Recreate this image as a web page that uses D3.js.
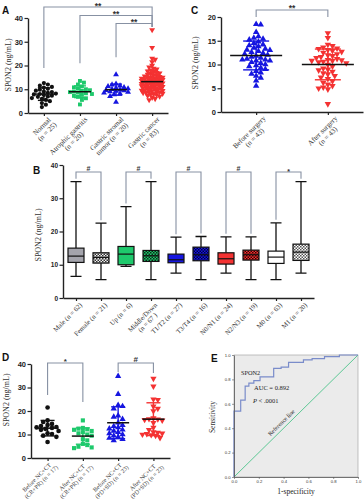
<!DOCTYPE html>
<html><head><meta charset="utf-8">
<script src="https://cdn.jsdelivr.net/npm/d3@7"></script>
<style>body{margin:0;background:#fff}svg{display:block}</style>
</head><body>
<svg id="c" width="364" height="500"></svg>
<script>
// ================= DATA =================
// Panel A
const aCategories=[["Normal","(n = 25)"],["Atrophic gastritis","(n = 20)"],["Gastric stromal","tumor (n = 20)"],["Gastric cancer","(n = 83)"]];
const aNormal=[2.5,3.5,4.2,5.0,5.5,6.0,6.3,6.8,7.0,7.3,7.6,7.8,8.0,8.2,8.5,8.8,9.0,9.4,9.8,10.2,10.7,11.0,11.5,12.0,12.6];
const aAtrophic=[3.6,5.5,6.2,6.8,7.2,7.6,8.0,8.3,8.6,8.8,9.0,9.3,9.6,10.0,10.3,10.8,11.2,12.0,12.8,13.5];
const aStromal=[4.6,7.0,7.8,8.2,8.5,8.8,9.0,9.2,9.4,9.6,9.8,10.0,10.3,10.5,10.8,11.2,11.5,11.9,12.3,16.2];
const aCancer=[5.5,6.0,6.5,7.0,7.3,7.6,8.0,8.2,8.5,8.8,9.0,9.2,9.4,9.6,9.8,10.0,10.2,10.4,10.6,10.8,
 11.0,11.1,11.3,11.5,11.6,11.8,12.0,12.1,12.3,12.5,12.6,12.8,13.0,13.1,13.3,13.5,13.6,13.8,14.0,14.2,
 14.3,14.5,14.7,14.9,15.1,15.3,15.5,15.7,16.0,16.2,16.5,16.8,17.0,17.3,17.6,18.0,18.4,18.8,19.3,20.0,
 9.1,10.1,10.9,11.4,12.2,12.7,13.2,13.7,14.1,14.6,12.4,11.7,10.5,9.5,8.6,13.4,15.0,21.5,22.5,23.0,
 27.5,35.0,7.8];
const aTicks=[0,10,20,30,40];
const aSig=[[0,3,"**"],[1,3,"**"],[2,3,"**"]];
const aSigLegEnd=[19,21,23.5];

// Panel C
const cCategories=[["Before surgery","(n = 43)"],["After surgery","(n = 43)"]];
const cBefore=[18.5,18.4,16.8,15.9,15.6,15.4,15.2,14.8,14.5,14.2,14.0,13.8,13.5,13.3,13.1,13.0,12.8,12.6,12.4,12.2,12.0,11.8,11.6,11.4,11.2,11.0,11.0,10.8,10.8,10.5,10.3,10.0,9.8,9.6,9.3,9.0,8.6,8.3,8.0,7.6,7.2,6.6,5.5];
const cAfter=[16.6,15.6,14.2,13.9,13.6,13.4,13.3,13.1,12.9,12.7,12.5,12.2,12.0,11.8,11.6,11.4,11.2,11.0,10.9,10.8,10.8,10.6,10.5,10.3,10.0,9.6,9.2,9.0,8.8,8.5,8.2,8.0,7.6,7.3,7.0,6.5,6.2,5.8,5.5,5.2,5.0,4.8,1.7];
const cTicks=[0,5,10,15,20];

// Panel B
const bCategories=[["Male (n = 62)"],["Female (n = 21)"],["Up (n = 6)"],["Middle/Down","(n = 67 )"],["T1/T2 (n = 27)"],["T3/T4 (n = 16)"],["N0/N1 (n = 24)"],["N2/N3 (n = 19)"],["M0 (n = 63)"],["M1 (n = 20)"]];
const bMin=[6.5,5.5,9.5,5.5,7.5,5.5,7.5,5.5,5.5,7.5];
const bQ1=[10.7,10.5,10.0,11.0,10.6,11.2,10.2,11.4,10.4,11.3];
const bMedian=[12.6,12.2,13.2,12.7,11.5,13.0,11.8,13.0,12.3,13.8];
const bQ3=[15.0,13.6,15.5,14.3,13.2,15.3,13.6,14.4,14.1,16.2];
const bMax=[35,22.5,27.5,35,18.3,18.5,18.4,18.4,22.6,35];
const bTicks=[0,10,20,30,40];
const bPairs=[[0,1,"#"],[2,3,"#"],[4,5,"#"],[6,7,"#"],[8,9,"*"]];

// Panel D
const dCategories=[["Before NC+CT","(CR+PR) (n = 17)"],["After NC+CT","(CR+PR) (n = 17)"],["Before NC+CT","(PD+SD) (n = 23)"],["After NC+CT","(PD+SD) (n = 23)"]];
const dBeforeCR=[21.5,16.0,15.3,14.5,14.0,13.6,13.2,13.0,12.8,12.4,12.0,11.5,10.5,10.2,9.5,9.0,6.8];
const dAfterCR=[16.0,12.8,12.5,12.2,12.0,11.5,11.0,10.5,10.0,9.5,8.0,7.5,6.0,5.5,4.8,4.5,4.2];
const dBeforePD=[34.8,27.2,22.5,22.0,21.0,18.0,17.5,16.5,15.0,14.0,13.5,13.0,12.5,12.0,11.5,11.0,10.5,10.0,9.5,9.0,8.5,8.0,7.5];
const dAfterPD=[33.8,30.5,25.0,24.8,22.0,21.0,20.0,17.0,16.6,16.5,16.3,16.0,15.0,13.0,12.0,11.0,10.8,10.5,10.3,10.0,9.8,9.5,8.6];
const dTicks=[0,10,20,30,40];
const dSig=[[0,1,"*"],[2,3,"#"]];
const dSigLegEnd=[[26.8,23.8],[36.6,36.2]];

// Panel E
const rocFPR=[0,0,0.054,0.09,0.12,0.16,0.21,0.32,0.38,0.44,0.56,0.63,0.73,0.85,1];
const rocTPR=[0,0.54,0.63,0.745,0.77,0.79,0.82,0.89,0.90,0.94,0.96,0.97,0.986,1,1];
const rocTicks=[0,0.2,0.4,0.6,0.8,1.0];

// ================= STYLE =================
const SANS="Arial, 'Liberation Sans', sans-serif";
const SERIF="'Times New Roman', 'Liberation Serif', serif";
const BLACK="#111", GREEN="#1ec96c", BLUE="#1616e0", RED="#f43232", BRK="#8791a3";

const svg=d3.select("#c");
const defs=svg.append("defs");
function pattern(id,base,dot){
  const p=defs.append("pattern").attr("id",id).attr("patternUnits","userSpaceOnUse").attr("width",3).attr("height",3);
  p.append("rect").attr("width",3).attr("height",3).attr("fill",base);
  p.append("rect").attr("width",1.5).attr("height",1.5).attr("fill",dot);
  p.append("rect").attr("x",1.5).attr("y",1.5).attr("width",1.5).attr("height",1.5).attr("fill",dot);
}
pattern("pGray","#f2f2f2","#333");
pattern("pGreen",GREEN,"#0b2a18");
pattern("pBlue",BLUE,"#000040");
pattern("pRed",RED,"#3a0000");
pattern("pWhite","#ffffff","#555");
const bFill=["#a4a4ac","url(#pGray)",GREEN,"url(#pGreen)",BLUE,"url(#pBlue)",RED,"url(#pRed)","#ffffff","url(#pWhite)"];

// ================= HELPERS =================
function swarm(vals,y,d,maxOff){
  const items=vals.map(v=>({v,y:y(v)})).sort((a,b)=>a.y-b.y);
  const placed=[];
  items.forEach((p,i)=>{
    const step=d*0.5, n=Math.floor(maxOff/step);
    let best=0,bestScore=-1;
    for(let k=0;k<=2*n;k++){
      const mag=Math.ceil(k/2)*step;
      const sgn=(k%2===1)?(i%2?1:-1):(i%2?-1:1);
      const dx=k===0?0:sgn*mag;
      let minD=Infinity;
      for(const q of placed){const dd=Math.hypot(q.dx-dx,q.y-p.y);if(dd<minD)minD=dd;}
      if(minD>=d){best=dx;bestScore=Infinity;break;}
      if(minD>bestScore){bestScore=minD;best=dx;}
    }
    p.dx=best;placed.push(p);
  });
  return items;
}
function yAxis(g,y,ticks,x,fs){
  const ax=g.append("g").attr("transform",`translate(${x},0)`)
    .call(d3.axisLeft(y).tickValues(ticks).tickSize(3.5).tickSizeOuter(0).tickPadding(1.5).tickFormat(d3.format("d")));
  ax.select(".domain").attr("stroke","#222").attr("stroke-width",1.4);
  ax.selectAll(".tick line").attr("stroke","#222").attr("stroke-width",1.2);
  ax.selectAll("text").attr("font-family",SANS).attr("font-size",fs).attr("font-weight","bold").attr("fill","#222");
  return ax;
}
function xAxis(g,x,yPos){
  const ax=g.append("g").attr("transform",`translate(0,${yPos})`)
    .call(d3.axisBottom(x).tickSize(3).tickSizeOuter(0).tickFormat(""));
  ax.select(".domain").attr("stroke","#222").attr("stroke-width",1.4);
  ax.selectAll(".tick line").attr("stroke","#222").attr("stroke-width",1.2);
}
function catLabels(g,x,cats,axisY,fs,dx,dy){
  cats.forEach((lines,i)=>{
    const gg=g.append("g").attr("transform",`translate(${x(i)+dx},${axisY+dy}) rotate(-45)`);
    const texts=lines.map((t,j)=>gg.append("text").text(t).attr("font-family",SERIF).attr("font-size",fs)
      .attr("fill","#333").attr("text-anchor","middle").attr("y",fs*0.75+j*fs*1.05));
    const mw=d3.max(texts.map(t=>t.node().getComputedTextLength()));
    texts.forEach(t=>t.attr("x",-mw/2));
  });
}
function yTitle(g,x,yc,fs,txt){
  g.append("text").attr("transform",`translate(${x},${yc}) rotate(-90)`).attr("text-anchor","middle")
    .attr("font-family",SERIF).attr("font-size",fs).attr("fill","#333").text(txt);
}
function letter(x,y,t){
  svg.append("text").attr("x",x).attr("y",y).attr("font-family",SANS).attr("font-weight","bold").attr("font-size",10).attr("fill","#111").text(t);
}
function bracket(g,x1,x2,yTop,yEnd1,yEnd2,label,fs,ly){
  g.append("path").attr("d",`M${x1},${yEnd1}V${yTop}H${x2}V${yEnd2}`).attr("fill","none").attr("stroke",BRK).attr("stroke-width",1.1);
  g.append("text").attr("x",(x1+x2)/2).attr("y",ly).attr("text-anchor","middle").attr("font-family",SANS)
    .attr("font-weight","bold").attr("font-size",fs).attr("fill","#333").text(label);
}
const SYM={circle:d3.symbolCircle,square:d3.symbolSquare,up:d3.symbolTriangle,down:d3.symbolTriangle};
function dots(g,cx,y,vals,shape,color,size,d,maxOff,meanW,sdW){
  const pts=swarm(vals,y,d,maxOff);
  const sym=d3.symbol().type(SYM[shape]).size(size);
  g.append("g").selectAll("path").data(pts).join("path").attr("d",sym)
    .attr("transform",p=>`translate(${cx+p.dx},${p.y})${shape==="down"?" rotate(180)":""}`).attr("fill",color);
  const m=d3.mean(vals),s=d3.deviation(vals);
  g.append("line").attr("x1",cx).attr("x2",cx).attr("y1",y(m-s)).attr("y2",y(m+s)).attr("stroke",color).attr("stroke-width",1.4);
  [m-s,m+s].forEach(v=>g.append("line").attr("x1",cx-sdW/2).attr("x2",cx+sdW/2).attr("y1",y(v)).attr("y2",y(v)).attr("stroke",color).attr("stroke-width",1.4));
  g.append("line").attr("x1",cx-meanW/2).attr("x2",cx+meanW/2).attr("y1",y(m)).attr("y2",y(m)).attr("stroke",BLACK).attr("stroke-width",1.5);
}

// ================= PANEL A =================
{
  const g=svg.append("g");
  const y=d3.scaleLinear().domain([0,40]).range([113,18]);
  const x=d3.scalePoint().domain([0,1,2,3]).range([28,168]).padding(0.44);
  const groups=[aNormal,aAtrophic,aStromal,aCancer];
  const shapes=["circle","square","up","down"], cols=[BLACK,GREEN,BLUE,RED], sizes=[14,15,15,15];
  aSig.forEach(([i,j,l],k)=>{
    const yTop=[7,15.5,23.5][k];
    bracket(g,x(i),x(j),yTop,y(aSigLegEnd[k]),27,l,8.5,yTop+1.5);
  });
  groups.forEach((vals,i)=>dots(g,x(i),y,vals,shapes[i],cols[i],sizes[i],i===3?3.0:4.0,i===3?11:12,22,12));
  yAxis(g,y,aTicks,28,7.5);
  xAxis(g,x,113);
  catLabels(g,x,aCategories,113,7.2,4,3);
  yTitle(g,11,65,8,"SPON2 (ng/mL)");
  letter(2,14,"A");
}
// ================= PANEL C =================
{
  const g=svg.append("g");
  const y=d3.scaleLinear().domain([0,20]).range([112,17]);
  const x=d3.scalePoint().domain([0,1]).range([221,363]).padding(0.49);
  bracket(g,x(0),x(1),10,17,17,"**",8.5,11);
  dots(g,x(0),y,cBefore,"up",BLUE,18,4.6,24,52,26);
  dots(g,x(1),y,cAfter,"down",RED,18,4.6,24,52,26);
  yAxis(g,y,cTicks,221,7.5);
  xAxis(g,x,112);
  catLabels(g,x,cCategories,112,7.2,6,3);
  yTitle(g,198,63,8,"SPON2 (ng/mL)");
  letter(191,14,"C");
}
// ================= PANEL B =================
{
  const g=svg.append("g");
  const y=d3.scaleLinear().domain([0,40]).range([298,165]);
  const x=d3.scalePoint().domain(d3.range(10)).range([63,314]).padding(0.52);
  bPairs.forEach(([i,j,l])=>{
    bracket(g,x(i),x(j),172,y(bMax[i])-3,y(bMax[j])-3,l,7,l==="*"?174:170.5);
  });
  const bw=16,cw=11;
  bMin.forEach((_,i)=>{
    const cx=x(i);
    g.append("path").attr("d",`M${cx},${y(bMax[i])}V${y(bQ3[i])}M${cx},${y(bQ1[i])}V${y(bMin[i])}M${cx-cw/2},${y(bMax[i])}H${cx+cw/2}M${cx-cw/2},${y(bMin[i])}H${cx+cw/2}`)
      .attr("stroke",BLACK).attr("stroke-width",1.3).attr("fill","none");
    g.append("rect").attr("x",cx-bw/2).attr("y",y(bQ3[i])).attr("width",bw).attr("height",y(bQ1[i])-y(bQ3[i]))
      .attr("fill",bFill[i]).attr("stroke",BLACK).attr("stroke-width",1.2);
    g.append("line").attr("x1",cx-bw/2).attr("x2",cx+bw/2).attr("y1",y(bMedian[i])).attr("y2",y(bMedian[i])).attr("stroke",BLACK).attr("stroke-width",1.2);
  });
  yAxis(g,y,bTicks,63,6.5);
  xAxis(g,x,298);
  catLabels(g,x,bCategories,298,6.8,3,4);
  yTitle(g,41,235,8,"SPON2 (ng/mL)");
  letter(33,174,"B");
}
// ================= PANEL D =================
{
  const g=svg.append("g");
  const y=d3.scaleLinear().domain([0,40]).range([458,364]);
  const x=d3.scalePoint().domain([0,1,2,3]).range([31,170]).padding(0.47);
  dSig.forEach(([i,j,l],k)=>bracket(g,x(i),x(j),363,y(dSigLegEnd[k][0]),y(dSigLegEnd[k][1]),l,8,l==="*"?364:361.5));
  const groups=[dBeforeCR,dAfterCR,dBeforePD,dAfterPD];
  const shapes=["circle","square","up","down"], cols=[BLACK,GREEN,BLUE,RED];
  groups.forEach((vals,i)=>dots(g,x(i),y,vals,shapes[i],cols[i],17,4.4,13,22,14));
  yAxis(g,y,dTicks,31,7.5);
  xAxis(g,x,458);
  catLabels(g,x,dCategories,458,6.1,3,2);
  yTitle(g,9,400,8,"SPON2 (ng/mL)");
  letter(2,361,"D");
}
// ================= PANEL E =================
{
  const g=svg.append("g");
  const x=d3.scaleLinear().domain([0,1]).range([234,358]);
  const y=d3.scaleLinear().domain([0,1]).range([477,355]);
  g.append("rect").attr("x",234).attr("y",355).attr("width",124).attr("height",122).attr("fill","#ebebeb").attr("stroke","#9a9a9a").attr("stroke-width",0.6);
  g.append("line").attr("x1",x(0)).attr("y1",y(0)).attr("x2",x(1)).attr("y2",y(1)).attr("stroke","#4cc38a").attr("stroke-width",0.9);
  const pts=rocFPR.map((f,i)=>[f,rocTPR[i]]);
  g.append("path").attr("d",d3.line().x(d=>x(d[0])).y(d=>y(d[1])).curve(d3.curveStepAfter)(pts))
    .attr("fill","none").attr("stroke","#7a8cca").attr("stroke-width",1.2);
  const ax=g.append("g").attr("transform","translate(0,477)").call(d3.axisBottom(x).tickValues(rocTicks).tickSize(2).tickSizeOuter(0).tickPadding(1.5).tickFormat(d3.format(".1f")));
  const ay=g.append("g").attr("transform","translate(234,0)").call(d3.axisLeft(y).tickValues(rocTicks).tickSize(2).tickSizeOuter(0).tickPadding(1.5).tickFormat(d3.format(".1f")));
  [ax,ay].forEach(a=>{a.select(".domain").attr("stroke","#555").attr("stroke-width",0.8);a.selectAll(".tick line").attr("stroke","#555").attr("stroke-width",0.6);
    a.selectAll("text").attr("font-family",SANS).attr("font-size",4.2).attr("fill","#333");});
  g.append("text").attr("x",241).attr("y",375).attr("font-family",SERIF).attr("font-size",6.3).attr("fill","#222").text("SPON2");
  g.append("text").attr("x",254).attr("y",390).attr("font-family",SERIF).attr("font-size",6.5).attr("fill","#222").text("AUC = 0.892");
  const pt=g.append("text").attr("x",253).attr("y",403).attr("font-family",SERIF).attr("font-size",6.5).attr("fill","#222");
  pt.append("tspan").attr("font-style","italic").text("P");
  pt.append("tspan").text(" < .0001");
  g.append("text").attr("transform",`translate(${x(0.41)-2},${y(0.41)-3}) rotate(-44.5)`).attr("text-anchor","middle")
    .attr("font-family",SERIF).attr("font-size",6).attr("fill","#222").text("Reference line");
  g.append("text").attr("x",296).attr("y",494).attr("text-anchor","middle").attr("font-family",SERIF).attr("font-size",7.5).attr("fill","#222").text("1-specificity");
  yTitle(g,215,417,7.5,"Sensitivity");
  letter(211,362,"E");
}
</script></body></html>
